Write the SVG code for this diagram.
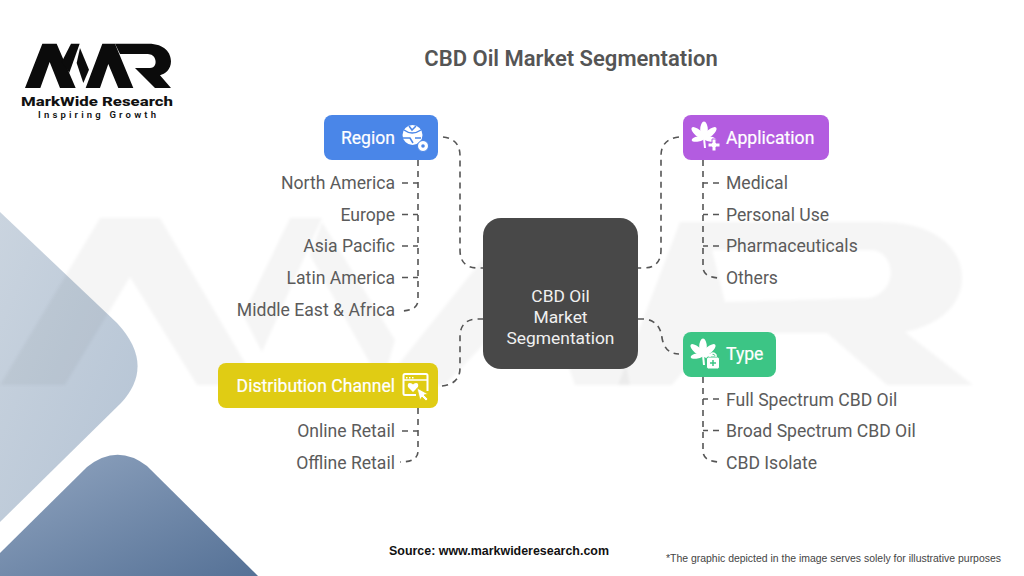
<svg xmlns="http://www.w3.org/2000/svg" xmlns:xlink="http://www.w3.org/1999/xlink" width="1024" height="576" viewBox="0 0 1024 576">
<style>
text{font-family:Roboto,"Liberation Sans",sans-serif}
.item{font-size:17.6px;fill:#5b5b5b}
.end{text-anchor:end}
.lab{font-size:17.6px;fill:#fff;stroke:#fff;stroke-width:.2}
.cen{font-size:17.4px;fill:#f0f0f0;text-anchor:middle}
.dash{fill:none;stroke:#555;stroke-width:1.6;stroke-dasharray:6 5}
.ic{fill:#fff}
</style>
<defs>
<linearGradient id="lg1" x1="0" y1="0" x2="1" y2="1"><stop offset="0" stop-color="#cad4df"/><stop offset="1" stop-color="#b4c3d4"/></linearGradient>
<linearGradient id="lg2" x1="0" y1="0" x2="1" y2="1"><stop offset="0" stop-color="#91a5c0"/><stop offset="1" stop-color="#557196"/></linearGradient>
<filter id="soft" x="-5%" y="-5%" width="110%" height="110%"><feGaussianBlur stdDeviation="1.5"/></filter>
<g id="leaf" class="ic">
<ellipse cx="0" cy="-6" rx="3.800" ry="8.500"/>
<ellipse cx="0" cy="-6" rx="3.300" ry="8" transform="rotate(50 0 2)"/>
<ellipse cx="0" cy="-6" rx="3.300" ry="8" transform="rotate(-50 0 2)"/>
<ellipse cx="0" cy="-4" rx="2.600" ry="6.500" transform="rotate(100 0 2)"/>
<ellipse cx="0" cy="-4" rx="2.600" ry="6.500" transform="rotate(-100 0 2)"/>
<path d="M-1 2H1L2 12H0Z"/>
</g>
</defs>

<g id="background">
<rect width="1024" height="576" fill="#fff"/>
<path d="M0 212L117 323Q156 365 121 403L0 522Z" fill="url(#lg1)"/>
<path d="M0 576V553L87 467Q117 443 147 466L258 576Z" fill="url(#lg2)"/>
<g id="watermark" fill="#000" fill-opacity=".04" filter="url(#soft)">
<path d="M0 385L100 218H160L258 385H197L130 277L65 385Z"/>
<path d="M243 315L290 218H322L262 352Z"/>
<path d="M322 222L395 340L382 385L310 255Z"/>
<path d="M382 385L470 275L500 240L540 222H600L630 385H575L540 285L445 385Z"/>
<path fill-rule="evenodd" d="M680 222H880C935 222 962 248 962 278C962 308 935 326 905 332L973 385H887L827 333H716L672 385H618ZM712 250H870C895 250 900 290 870 298L725 302Z"/>
</g>
</g>

<g id="logo">
<g fill="#0b0b0b" transform="translate(15 38) scale(.3333)">
<path d="M30 150L82 17H125L182 150H135L104 72L76 150Z"/>
<path d="M140 72L168 17H194L163 104Z"/>
<path d="M195 30L222 95L205 135L185 75Z"/>
<path d="M212 150L262 17H300L355 150H310L280 78L255 150Z"/>
<path d="M300 17H400C450 17 468 45 468 70C468 95 450 108 435 112L468 150H420L360 90H405C420 90 425 75 420 62C415 50 405 48 395 48H315Z"/>
</g>
<text x="97" y="106" text-anchor="middle" font-size="13.500" font-weight="800" fill="#111" textLength="152" lengthAdjust="spacingAndGlyphs">MarkWide Research</text>
<text x="97" y="117.500" text-anchor="middle" font-size="9.500" font-weight="600" fill="#111" textLength="118">Inspiring Growth</text>
</g>

<text id="title" x="571" y="66" text-anchor="middle" font-size="22" font-weight="600" fill="#555">CBD Oil Market Segmentation</text>

<g id="connectors">
<path class="dash" d="M443 137Q460 139 460 156V250Q460 268 478 268H483"/>
<path class="dash" d="M679 137Q661 139 661 156V250Q661 268 643 268H638"/>
<path class="dash" d="M442 386Q460 384 460 368V337Q460 319 478 319H483"/>
<path class="dash" d="M638 319H645Q660 321 662 338Q665 354 679 354"/>
<path class="dash" d="M418 160V300Q418 311 400 311"/>
<path class="dash" d="M402 183H418M402 214.500H418M402 246H418M402 277.500H418"/>
<path class="dash" d="M703 160V267Q703 278 721 278"/>
<path class="dash" d="M719 183H703M719 214.500H703M719 246H703"/>
<path class="dash" d="M418 408V451Q418 462 400 462"/>
<path class="dash" d="M402 431H418"/>
<path class="dash" d="M703 377V451Q703 462 721 462"/>
<path class="dash" d="M719 399H703M719 430.500H703"/>
</g>

<g id="node-center">
<rect x="483" y="218" width="155" height="151" rx="18" fill="#484848"/>
<text class="cen" x="560.500" y="302">CBD Oil</text>
<text class="cen" x="560.500" y="323">Market</text>
<text class="cen" x="560.500" y="344">Segmentation</text>
</g>

<g id="node-region">
<rect x="324" y="115" width="114" height="45" rx="8" fill="#4a86e8"/>
<text class="lab end" x="395" y="144">Region</text>
<circle class="ic" cx="412.500" cy="135" r="10"/>
<path d="M404 130Q412 136 421 130M403 138H410L413 143M415 138H421M409 126L412 130L416 126" fill="none" stroke="#4a86e8" stroke-width="1.500"/>
<circle class="ic" cx="423" cy="146" r="5.500" stroke="#4a86e8" stroke-width="1"/>
<circle cx="423" cy="146" r="1.800" fill="#4a86e8"/>
</g>
<g id="item-north-america"><text class="item end" x="395" y="189">North America</text></g>
<g id="item-europe"><text class="item end" x="395" y="220.500">Europe</text></g>
<g id="item-asia-pacific"><text class="item end" x="395" y="252">Asia Pacific</text></g>
<g id="item-latin-america"><text class="item end" x="395" y="283.500">Latin America</text></g>
<g id="item-mea"><text class="item end" x="395" y="315.500">Middle East &amp; Africa</text></g>

<g id="node-application">
<rect x="683" y="115" width="146" height="45" rx="8" fill="#b35ce0"/>
<use xlink:href="#leaf" x="704" y="136"/>
<path class="ic" d="M712 139h4v4h4v4h-4v4h-4v-4h-4v-4h4z" stroke="#b35ce0" stroke-width="1"/>
<text class="lab" x="726" y="144">Application</text>
</g>
<g id="item-medical"><text class="item" x="726" y="189">Medical</text></g>
<g id="item-personal-use"><text class="item" x="726" y="220.500">Personal Use</text></g>
<g id="item-pharma"><text class="item" x="726" y="252">Pharmaceuticals</text></g>
<g id="item-others"><text class="item" x="726" y="283.500">Others</text></g>

<g id="node-distribution">
<rect x="218" y="363" width="220" height="45" rx="8" fill="#e0cc14"/>
<text class="lab end" x="395" y="392">Distribution Channel</text>
<path d="M416 395H405Q403.500 395 403.500 393.500V375.500Q403.500 374 405 374H426Q427.500 374 427.500 375.500V391" fill="none" stroke="#fff" stroke-width="2"/>
<path d="M404 380H427" stroke="#fff" stroke-width="1.500"/>
<path class="ic" d="M406 377h1.500v1.500h-1.500zM409 377h1.500v1.500h-1.500zM412 377h1.500v1.500h-1.500z"/>
<path class="ic" d="M413 392l-5-5q-1-4 2-4q2 0 3 1.500q1-1.500 3-1.500q3 0 2 4z"/>
<path class="ic" d="M417 388l11 6-4 1 4 4-2 2-4-4-2 3z" stroke="#e0cc14" stroke-width=".8"/>
</g>
<g id="item-online"><text class="item end" x="395" y="437">Online Retail</text></g>
<g id="item-offline"><text class="item end" x="395" y="468.500">Offline Retail</text></g>

<g id="node-type">
<rect x="683" y="332" width="93" height="45" rx="8" fill="#3cc585"/>
<use xlink:href="#leaf" x="703" y="353"/>
<rect class="ic" x="706.500" y="357" width="13" height="12" rx="2" stroke="#3cc585" stroke-width="1"/>
<path d="M710 357v-2q3-4 6 0v2" fill="none" stroke="#fff" stroke-width="1.500"/>
<path d="M713 360v6M710 363h6" stroke="#3cc585" stroke-width="1.500"/>
<text class="lab" x="726" y="360">Type</text>
</g>
<g id="item-full"><text class="item" x="726" y="405.500">Full Spectrum CBD Oil</text></g>
<g id="item-broad"><text class="item" x="726" y="437">Broad Spectrum CBD Oil</text></g>
<g id="item-isolate"><text class="item" x="726" y="468.500">CBD Isolate</text></g>

<text id="source" x="389" y="555" font-size="13" font-weight="700" fill="#111" style="font-family:'Liberation Sans',sans-serif" textLength="220" lengthAdjust="spacingAndGlyphs">Source: www.markwideresearch.com</text>
<text id="note" x="666" y="562" font-size="10.600" fill="#444" style="font-family:'Liberation Sans',sans-serif" textLength="335" lengthAdjust="spacingAndGlyphs">*The graphic depicted in the image serves solely for illustrative purposes</text>
</svg>
